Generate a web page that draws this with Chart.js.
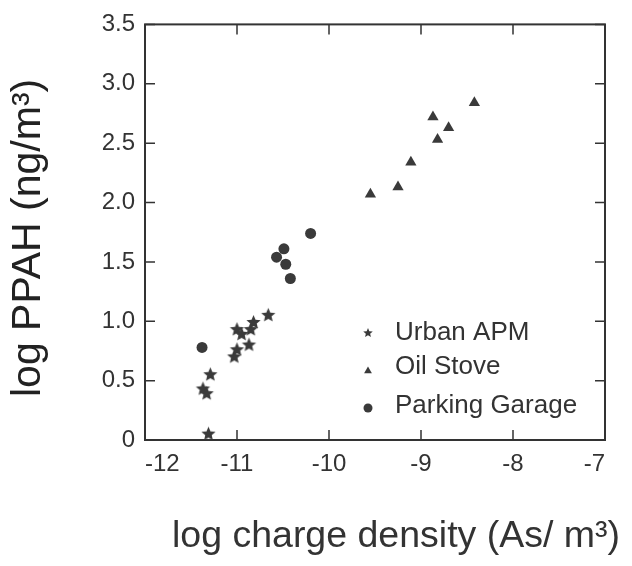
<!DOCTYPE html>
<html>
<head>
<meta charset="utf-8">
<script src="https://cdn.jsdelivr.net/npm/chart.js@4.4.0/dist/chart.umd.min.js"></script>
<style>
  html, body { margin: 0; padding: 0; background: #fff; }
  #wrap { width: 632px; height: 566px; }
</style>
</head>
<body>
<div id="wrap"><canvas id="ppahChart" width="632" height="566"></canvas></div>
<script>
// values (log charge density vs log PPAH)
var urbanX = [-11.31, -11.37, -11.33, -11.29, -11.03, -11.00, -11.00, -10.95, -10.87, -10.85, -10.82, -10.66];
var urbanY = [0.05, 0.43, 0.39, 0.55, 0.70, 0.76, 0.93, 0.89, 0.80, 0.93, 0.99, 1.05];

var stoveX = [-9.55, -9.25, -9.11, -8.87, -8.82, -8.70, -8.42];
var stoveY = [2.07, 2.13, 2.34, 2.72, 2.53, 2.63, 2.84];

var garageX = [-11.38, -10.57, -10.49, -10.47, -10.42, -10.20];
var garageY = [0.78, 1.54, 1.61, 1.48, 1.36, 1.74];

var seriesNames = ['Urban APM', 'Oil Stove', 'Parking Garage'];
var xTickLabels = ['-12', '-11', '-10', '-9', '-8', '-7'];
var yTickLabels = ['0', '0.5', '1.0', '1.5', '2.0', '2.5', '3.0', '3.5'];
var xTitle = 'log charge density (As/ m\u00b3)';
var yTitle = 'log PPAH (ng/m\u00b3)';

var ink = '#3a3a3a';
var fontFam = '"Liberation Sans", Arial, Helvetica, sans-serif';

function toPoints(xs, ys) {
    return xs.map(function (x, i) { return { x: x, y: ys[i] }; });
}

// filled five point star, the built-in 'star' is only an asterisk
function makeStar(r) {
    var c = document.createElement('canvas');
    var s = Math.ceil(r * 2 + 2);
    c.width = s;
    c.height = s;
    var g = c.getContext('2d');
    g.fillStyle = ink;
    g.beginPath();
    for (var k = 0; k < 10; k++) {
        var rad = k % 2 === 0 ? r : r * 0.45;
        var a = -Math.PI / 2 + k * Math.PI / 5;
        var px = s / 2 + rad * Math.cos(a);
        var py = s / 2 + rad * Math.sin(a);
        if (k === 0) g.moveTo(px, py); else g.lineTo(px, py);
    }
    g.closePath();
    g.fill();
    return c;
}

var bigStar = makeStar(7.5);
var smallStar = makeStar(5);

// box round the plot with inward tick marks on all four sides
var frameTicks = {
    id: 'frameTicks',
    afterDraw: function (chart) {
        var ctx = chart.ctx;
        var a = chart.chartArea;
        var xs = chart.scales.x;
        var ys = chart.scales.y;
        ctx.save();
        ctx.strokeStyle = '#333';
        ctx.lineWidth = 2;
        ctx.strokeRect(a.left, a.top, a.right - a.left, a.bottom - a.top);
        ctx.lineWidth = 1.5;
        ctx.beginPath();
        xs.ticks.forEach(function (t) {
            var p = xs.getPixelForValue(t.value);
            ctx.moveTo(p, a.bottom); ctx.lineTo(p, a.bottom - 10);
            ctx.moveTo(p, a.top); ctx.lineTo(p, a.top + 10);
        });
        ys.ticks.forEach(function (t) {
            var p = ys.getPixelForValue(t.value);
            ctx.moveTo(a.left, p); ctx.lineTo(a.left + 10, p);
            ctx.moveTo(a.right, p); ctx.lineTo(a.right - 10, p);
        });
        ctx.stroke();
        ctx.restore();
    }
};

// x title sits a bit right of the plot centre in the original
var xTitlePlugin = {
    id: 'xTitlePlugin',
    afterDraw: function (chart) {
        var ctx = chart.ctx;
        ctx.save();
        ctx.font = '37.5px ' + fontFam;
        ctx.fillStyle = '#333';
        ctx.textAlign = 'center';
        ctx.textBaseline = 'middle';
        ctx.fillText(xTitle, 396, 537);
        ctx.restore();
    }
};

// legend sits inside the plot, lower right
var insideLegend = {
    id: 'insideLegend',
    afterDraw: function (chart) {
        var ctx = chart.ctx;
        var marks = [smallStar, 'triangle', 'circle'];
        var textRows = [333, 367, 406];
        var markRows = [333, 371, 408];
        ctx.save();
        chart.data.datasets.forEach(function (ds, i) {
            ctx.fillStyle = ink;
            Chart.helpers.drawPoint(ctx, { pointStyle: marks[i], radius: 4.5, rotation: 0, borderWidth: 0 }, 368, markRows[i]);
            ctx.font = '26px ' + fontFam;
            ctx.textBaseline = 'middle';
            ctx.textAlign = 'left';
            ctx.fillStyle = '#333';
            ctx.fillText(ds.label, 395, textRows[i]);
        });
        ctx.restore();
    }
};

var ctx = document.getElementById('ppahChart').getContext('2d');
var ppahChart = new Chart(ctx, {
    type: 'scatter',
    data: {
        datasets: [{
            label: seriesNames[0],
            data: toPoints(urbanX, urbanY),
            pointStyle: bigStar,
            pointRadius: 7,
            backgroundColor: ink,
            borderWidth: 0
        }, {
            label: seriesNames[1],
            data: toPoints(stoveX, stoveY),
            pointStyle: 'triangle',
            pointRadius: 6.5,
            backgroundColor: ink,
            borderColor: ink,
            borderWidth: 0
        }, {
            label: seriesNames[2],
            data: toPoints(garageX, garageY),
            pointStyle: 'circle',
            pointRadius: 5.5,
            backgroundColor: ink,
            borderColor: ink,
            borderWidth: 0
        }]
    },
    options: {
        responsive: false,
        animation: false,
        layout: { padding: { left: 0, right: 27, top: 8, bottom: 0 } },
        plugins: {
            legend: { display: false },
            tooltip: { enabled: false }
        },
        scales: {
            x: {
                type: 'linear',
                min: -12,
                max: -7,
                grid: { display: false, drawTicks: false },
                border: { display: false },
                ticks: {
                    stepSize: 1,
                    padding: 10,
                    align: 'inner',
                    color: '#333',
                    font: { family: fontFam, size: 24 },
                    maxRotation: 0,
                    callback: function (v, i) { return xTickLabels[i]; }
                },
                title: { display: false },
                afterFit: function (scale) { scale.height = 126; }
            },
            y: {
                type: 'linear',
                min: 0,
                max: 3.5,
                grid: { display: false, drawTicks: false },
                border: { display: false },
                ticks: {
                    stepSize: 0.5,
                    padding: 10,
                    color: '#333',
                    font: { family: fontFam, size: 24 },
                    callback: function (v, i) { return yTickLabels[i]; }
                },
                title: {
                    display: true,
                    text: yTitle + ' ',
                    color: '#222',
                    font: { family: fontFam, size: 41 },
                    padding: { top: 4, bottom: 4 }
                },
                afterFit: function (scale) { scale.width = 145; }
            }
        }
    },
    plugins: [frameTicks, xTitlePlugin, insideLegend]
});
</script>
</body>
</html>
